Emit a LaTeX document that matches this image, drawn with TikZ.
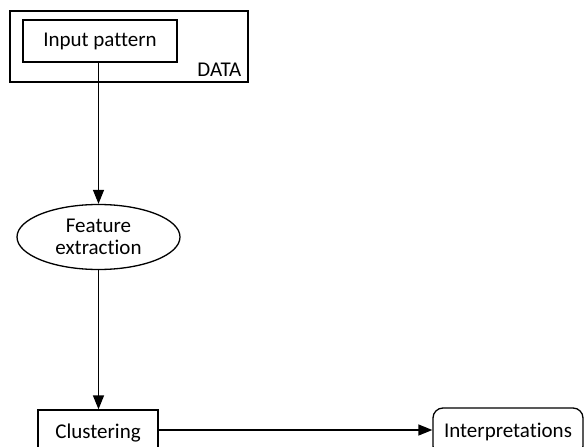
\documentclass[tikz,border=0pt]{standalone}
\usepackage{fontspec}
\setmainfont{Carlito}[Ligatures=NoCommon]
\usetikzlibrary{arrows.meta,shapes.geometric}
\begin{document}
\begin{tikzpicture}[x=1pt,y=-1pt,
  line width=1.3pt,
  every node/.style={font=\fontsize{21}{24}\selectfont, inner sep=0pt},
  boxnode/.style={draw, rectangle},
  ellnode/.style={draw, ellipse, align=center},
  roundnode/.style={draw, rectangle, rounded corners=10pt},
  arr/.style={-{Triangle[length=14pt,width=11pt]}}]
\useasboundingbox (0,0) rectangle (584,447);
\clip (0,0) rectangle (584,447);
\node[boxnode, minimum width=238pt, minimum height=71pt] (data) at (129,46.5) {};
\node[boxnode, minimum width=154pt, minimum height=42pt] (input) at (100,41) {Input pattern};
\node[anchor=base east] (datalbl) at (242,76) {DATA};
\node[ellnode, minimum width=163pt, minimum height=65pt] (feat) at (98.5,237) {Feature\\[-2pt]extraction};
\node[boxnode, minimum width=120pt, minimum height=46pt] (clus) at (98,433) {Clustering};
\node[roundnode, minimum width=150pt, minimum height=48pt] (interp) at (508,432) {Interpretations};
\draw[arr] (feat.north |- input.south) -- (feat.north);
\draw[arr] (feat.south) -- (feat.south |- clus.north);
\draw[arr] (clus.east |- 0,430) -- (interp.west |- 0,430);
\end{tikzpicture}
\end{document}
